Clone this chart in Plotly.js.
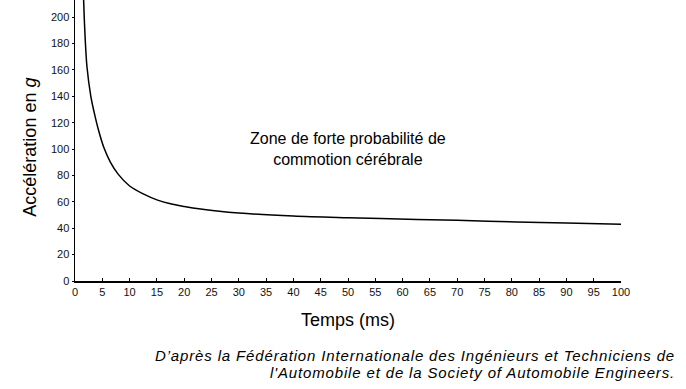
<!DOCTYPE html>
<html>
<head>
<meta charset="utf-8">
<script src="https://cdn.plot.ly/plotly-3.0.1.min.js"></script>
<style>html,body{margin:0;padding:0;background:#fff;}#chart{width:686px;height:389px;}</style>
</head>
<body>
<div id="chart"></div>
<script>
// Data
const timeMs = [1.58, 1.7, 1.9, 2.2, 2.9, 3.5, 4.2, 5.3, 6.5, 7.9, 10, 12.5, 15, 17.5, 20, 23, 26, 30, 40, 50, 62.6, 70, 80.9, 90, 100];
const accelG = [213, 199, 181, 162, 140, 128, 116, 101, 90, 81, 72, 66, 61.5, 58.5, 56.5, 54.5, 53, 51.5, 49.3, 48, 46.6, 46, 44.8, 44, 43];
const xTicks = [0, 5, 10, 15, 20, 25, 30, 35, 40, 45, 50, 55, 60, 65, 70, 75, 80, 85, 90, 95, 100];
const yTicks = [0, 20, 40, 60, 80, 100, 120, 140, 160, 180, 200];
const yTitle = 'Accélération en <i>g</i>';
const xTitle = 'Temps (ms)';
const zoneText = 'Zone de forte probabilité de<br>commotion cérébrale';
const sourceLine1 = 'D\u2019après la Fédération Internationale des Ingénieurs et Techniciens de';
const sourceLine2 = 'l\'Automobile et de la Society of Automobile Engineers.';

const font = 'Liberation Sans, Arial, sans-serif';
const foot = t => '<span style="letter-spacing:0.85px"><i>' + t + '</i></span>';

Plotly.newPlot('chart', [{
  x: timeMs, y: accelG, type: 'scatter', mode: 'lines',
  line: {color: '#000', width: 1.5, shape: 'spline', smoothing: 0.9},
  hoverinfo: 'skip'
}], {
  width: 686, height: 389,
  margin: {l: 75, r: 65, t: 0, b: 108},
  paper_bgcolor: '#fff', plot_bgcolor: '#fff',
  showlegend: false,
  font: {family: font, color: '#000'},
  xaxis: {
    range: [0, 100], tickvals: xTicks, ticktext: xTicks.map(String),
    ticks: 'inside', ticklen: 3, tickwidth: 1, tickcolor: '#000',
    showline: true, linecolor: '#000', linewidth: 1.5,
    showgrid: false, zeroline: false,
    tickfont: {size: 11, color: '#111'},
    title: {text: xTitle, font: {size: 18, color: '#000'}, standoff: 16}
  },
  yaxis: {
    range: [0, 213], tickvals: yTicks, ticktext: yTicks.map(String),
    ticks: 'outside', ticklen: 2, tickwidth: 1, tickcolor: '#000',
    showline: true, linecolor: '#000', linewidth: 1.5,
    showgrid: false, zeroline: false,
    tickfont: {size: 11, color: '#111'}
  },
  annotations: [
    {x: -0.084, y: 0.475, xref: 'paper', yref: 'paper', xanchor: 'center', yanchor: 'middle',
     text: yTitle, textangle: -90,
     showarrow: false, font: {size: 18, color: '#000', family: font}},
    {x: 50, y: 100, xref: 'x', yref: 'y', text: zoneText, showarrow: false,
     font: {size: 16, color: '#000', family: font}, align: 'center'},
    {x: 1.103, y: -0.266, xref: 'paper', yref: 'paper', xanchor: 'right', yanchor: 'middle',
     text: foot(sourceLine1), showarrow: false, align: 'right',
     font: {size: 15, color: '#000', family: font}},
    {x: 1.103, y: -0.326, xref: 'paper', yref: 'paper', xanchor: 'right', yanchor: 'middle',
     text: foot(sourceLine2), showarrow: false, align: 'right',
     font: {size: 15, color: '#000', family: font}}
  ]
}, {displayModeBar: false, staticPlot: true});
</script>
</body>
</html>
